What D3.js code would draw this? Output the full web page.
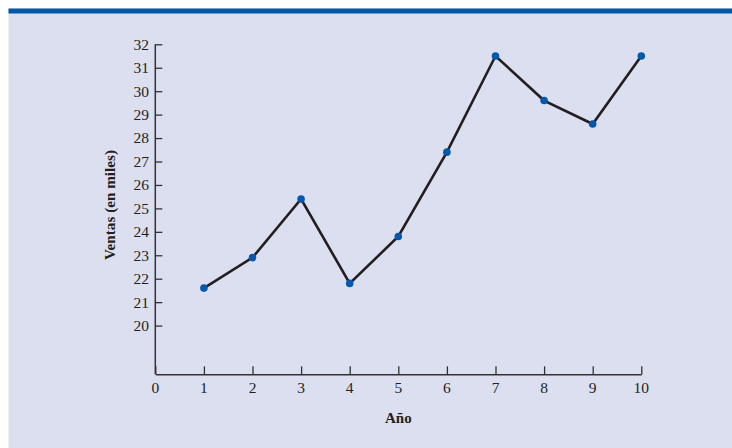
<!DOCTYPE html>
<html>
<head>
<meta charset="utf-8">
<script src="https://cdn.jsdelivr.net/npm/d3@7"></script>
<style>
  html, body { margin: 0; padding: 0; background: #ffffff; }
  svg { display: block; }
</style>
</head>
<body>
<svg id="chart" width="732" height="448"></svg>
<script>
// Annual sales (thousands) by year
const years = [1, 2, 3, 4, 5, 6, 7, 8, 9, 10];
const sales = [21.6, 22.9, 25.4, 21.8, 23.8, 27.4, 31.5, 29.6, 28.6, 31.5];
const xTicks = [0, 1, 2, 3, 4, 5, 6, 7, 8, 9, 10];
const yTicks = [20, 21, 22, 23, 24, 25, 26, 27, 28, 29, 30, 31, 32];
const xTitle = "Año";
const yTitle = "Ventas (en miles)";

const W = 732, H = 448;
const svg = d3.select("#chart");

// panel background and top rule
svg.append("rect").attr("x", 8.5).attr("y", 8.5).attr("width", W - 8.5).attr("height", H - 8.5)
  .attr("fill", "#dcdff0");
svg.append("rect").attr("x", 8.5).attr("y", 8.5).attr("width", W - 8.5).attr("height", 5)
  .attr("fill", "#0356a2");

const x = d3.scaleLinear().domain([0, 10]).range([155.3, 641.3]);
const y = d3.scaleLinear().domain([20, 32]).range([325.6, 44.3]);
const baseY = 374.3;

const font = "'Liberation Serif', 'Times New Roman', serif";

// y axis: line runs down to the x axis, ticks point inward
const yAxis = d3.axisRight(y).tickValues(yTicks).tickSize(7).tickSizeOuter(0).tickFormat("");
const gy = svg.append("g").attr("transform", `translate(${x(0)},0)`).call(yAxis);
gy.select(".domain").remove();
gy.selectAll(".tick line").attr("stroke", "#333").attr("stroke-width", 1.3);
svg.append("line").attr("x1", x(0)).attr("x2", x(0)).attr("y1", y(32)).attr("y2", baseY)
  .attr("stroke", "#333").attr("stroke-width", 1.5);
svg.append("g").selectAll("text").data(yTicks).join("text")
  .attr("x", 149).attr("y", d => y(d)).attr("dy", "0.35em")
  .attr("text-anchor", "end").attr("font-family", font).attr("font-size", 15.5).attr("fill", "#231f20")
  .text(d => d);

// x axis with upward ticks
const xAxis = d3.axisTop(x).tickValues(xTicks).tickSize(8).tickSizeOuter(0).tickFormat("");
const gx = svg.append("g").attr("transform", `translate(0,${baseY})`).call(xAxis);
gx.select(".domain").attr("stroke", "#333").attr("stroke-width", 1.5);
gx.selectAll(".tick line").attr("stroke", "#333").attr("stroke-width", 1.3);
svg.append("g").selectAll("text").data(xTicks).join("text")
  .attr("x", d => x(d)).attr("y", 388).attr("dy", "0.35em")
  .attr("text-anchor", "middle").attr("font-family", font).attr("font-size", 15.5).attr("fill", "#231f20")
  .text(d => d);

// axis titles
svg.append("text").attr("x", x(5)).attr("y", 418).attr("dy", "0.35em")
  .attr("text-anchor", "middle").attr("font-family", font).attr("font-size", 15)
  .attr("font-weight", "bold").attr("fill", "#231f20").text(xTitle);
svg.append("text").attr("transform", "translate(110,205) rotate(-90)")
  .attr("dy", "0.35em").attr("text-anchor", "middle").attr("font-family", font).attr("font-size", 15.2)
  .attr("font-weight", "bold").attr("fill", "#231f20").text(yTitle);

// sales line and markers
const pts = years.map((yr, i) => [yr, sales[i]]);
svg.append("path").datum(pts)
  .attr("d", d3.line().x(d => x(d[0])).y(d => y(d[1])))
  .attr("fill", "none").attr("stroke", "#231f20").attr("stroke-width", 2.6)
  .attr("stroke-linejoin", "miter");
svg.append("g").selectAll("circle").data(pts).join("circle")
  .attr("cx", d => x(d[0])).attr("cy", d => y(d[1])).attr("r", 3.8)
  .attr("fill", "#0458ac");
</script>
</body>
</html>
